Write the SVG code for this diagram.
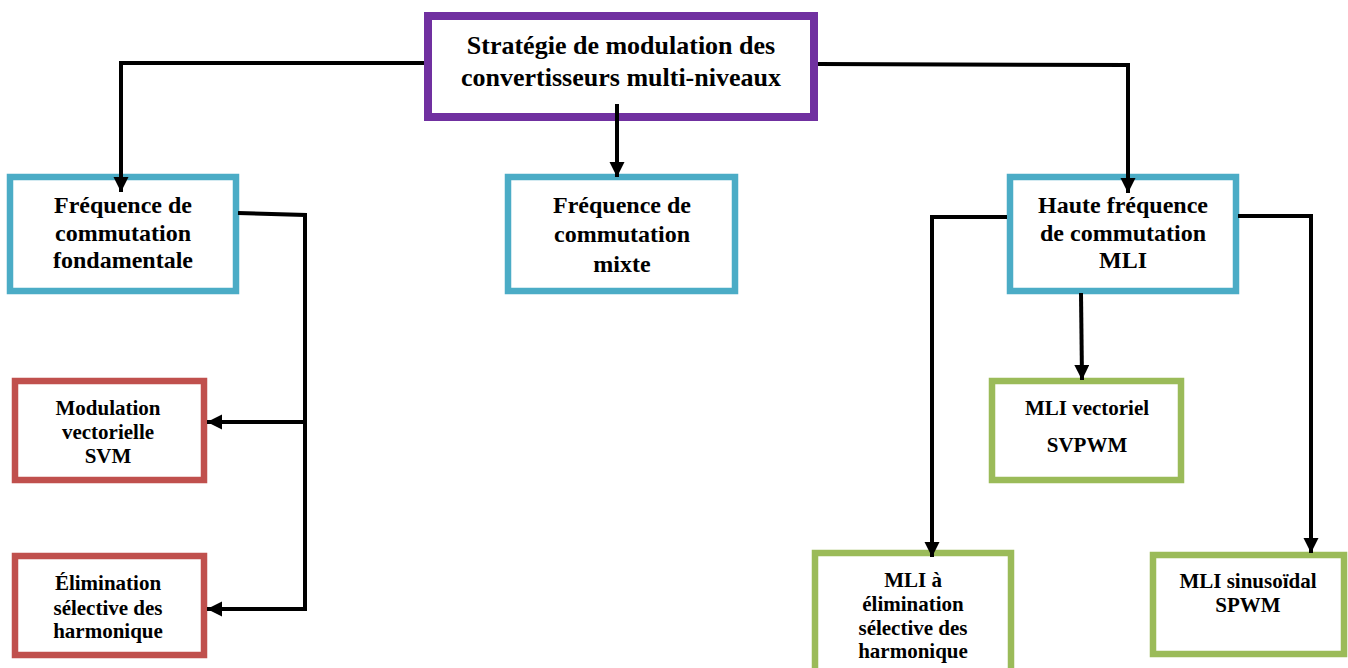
<svg xmlns="http://www.w3.org/2000/svg" width="1348" height="668" viewBox="0 0 1348 668">
<style>
.box{fill:#fff;stroke-width:6.5}
.purple{stroke:#7030A0;stroke-width:8}
.blue{stroke:#4BACC6}
.red{stroke:#C0504D}
.green{stroke:#9BBB59}
text{font-family:"Liberation Serif","Times New Roman",serif;font-weight:bold;fill:#000;text-anchor:middle}
.t26{font-size:26px}
.t24{font-size:24px}
.t21{font-size:21px}
.conn{fill:none;stroke:#000;stroke-width:4;stroke-linejoin:miter}
</style>
<defs>
<marker id="arr" markerUnits="userSpaceOnUse" markerWidth="16" markerHeight="16" refX="15" refY="7.5" orient="auto" viewBox="0 0 16 16">
<path d="M0,0 L15,7.5 L0,15 z" fill="#000"/>
</marker>
</defs>
<rect width="1348" height="668" fill="#fff"/>
<g id="root">
<rect class="box purple" x="428" y="16" width="386" height="101"/>
<text class="t26" x="621" y="54">Stratégie de modulation des</text>
<text class="t26" x="621" y="86">convertisseurs multi-niveaux</text>
</g>
<g id="fondamentale">
<rect class="box blue" x="10" y="177" width="226" height="114"/>
<text class="t24" x="123" y="213">Fréquence de</text>
<text class="t24" x="123" y="241">commutation</text>
<text class="t24" x="123" y="268">fondamentale</text>
</g>
<g id="mixte">
<rect class="box blue" x="508" y="177" width="227" height="114"/>
<text class="t24" x="622" y="213">Fréquence de</text>
<text class="t24" x="622" y="242">commutation</text>
<text class="t24" x="622" y="272">mixte</text>
</g>
<g id="haute">
<rect class="box blue" x="1010" y="177" width="226" height="114"/>
<text class="t24" x="1123" y="213">Haute fréquence</text>
<text class="t24" x="1123" y="241">de commutation</text>
<text class="t24" x="1123" y="268">MLI</text>
</g>
<g id="svm">
<rect class="box red" x="15" y="381" width="189" height="99"/>
<text class="t21" x="108" y="415">Modulation</text>
<text class="t21" x="108" y="439">vectorielle</text>
<text class="t21" x="108" y="463">SVM</text>
</g>
<g id="she">
<rect class="box red" x="15" y="556" width="189" height="99"/>
<text class="t21" x="108" y="590">Élimination</text>
<text class="t21" x="108" y="615">sélective des</text>
<text class="t21" x="108" y="638">harmonique</text>
</g>
<g id="svpwm">
<rect class="box green" x="992" y="381" width="189" height="99"/>
<text class="t21" x="1087" y="415">MLI vectoriel</text>
<text class="t21" x="1087" y="452">SVPWM</text>
</g>
<g id="mli-she">
<rect class="box green" x="815" y="553" width="196" height="130"/>
<text class="t21" x="913" y="587">MLI à</text>
<text class="t21" x="913" y="611">élimination</text>
<text class="t21" x="913" y="635">sélective des</text>
<text class="t21" x="913" y="658">harmonique</text>
</g>
<g id="spwm">
<rect class="box green" x="1153" y="555" width="191" height="99"/>
<text class="t21" x="1248" y="588">MLI sinusoïdal</text>
<text class="t21" x="1248" y="612">SPWM</text>
</g>
<g id="connectors">
<polyline class="conn" points="424,63 121,63 121,192" marker-end="url(#arr)"/>
<polyline class="conn" points="818,64 1128,65 1128,193" marker-end="url(#arr)"/>
<line class="conn" x1="617" y1="104" x2="617" y2="177" marker-end="url(#arr)"/>
<polyline class="conn" points="238,213 305,215 305,609 207,609" marker-end="url(#arr)"/>
<line class="conn" x1="305" y1="422" x2="207" y2="422" marker-end="url(#arr)"/>
<polyline class="conn" points="1007,217 932,217 932,557" marker-end="url(#arr)"/>
<polyline class="conn" points="1238,216 1311,216 1311,553" marker-end="url(#arr)"/>
<line class="conn" x1="1081" y1="293" x2="1082" y2="380" marker-end="url(#arr)"/>
</g>
</svg>
